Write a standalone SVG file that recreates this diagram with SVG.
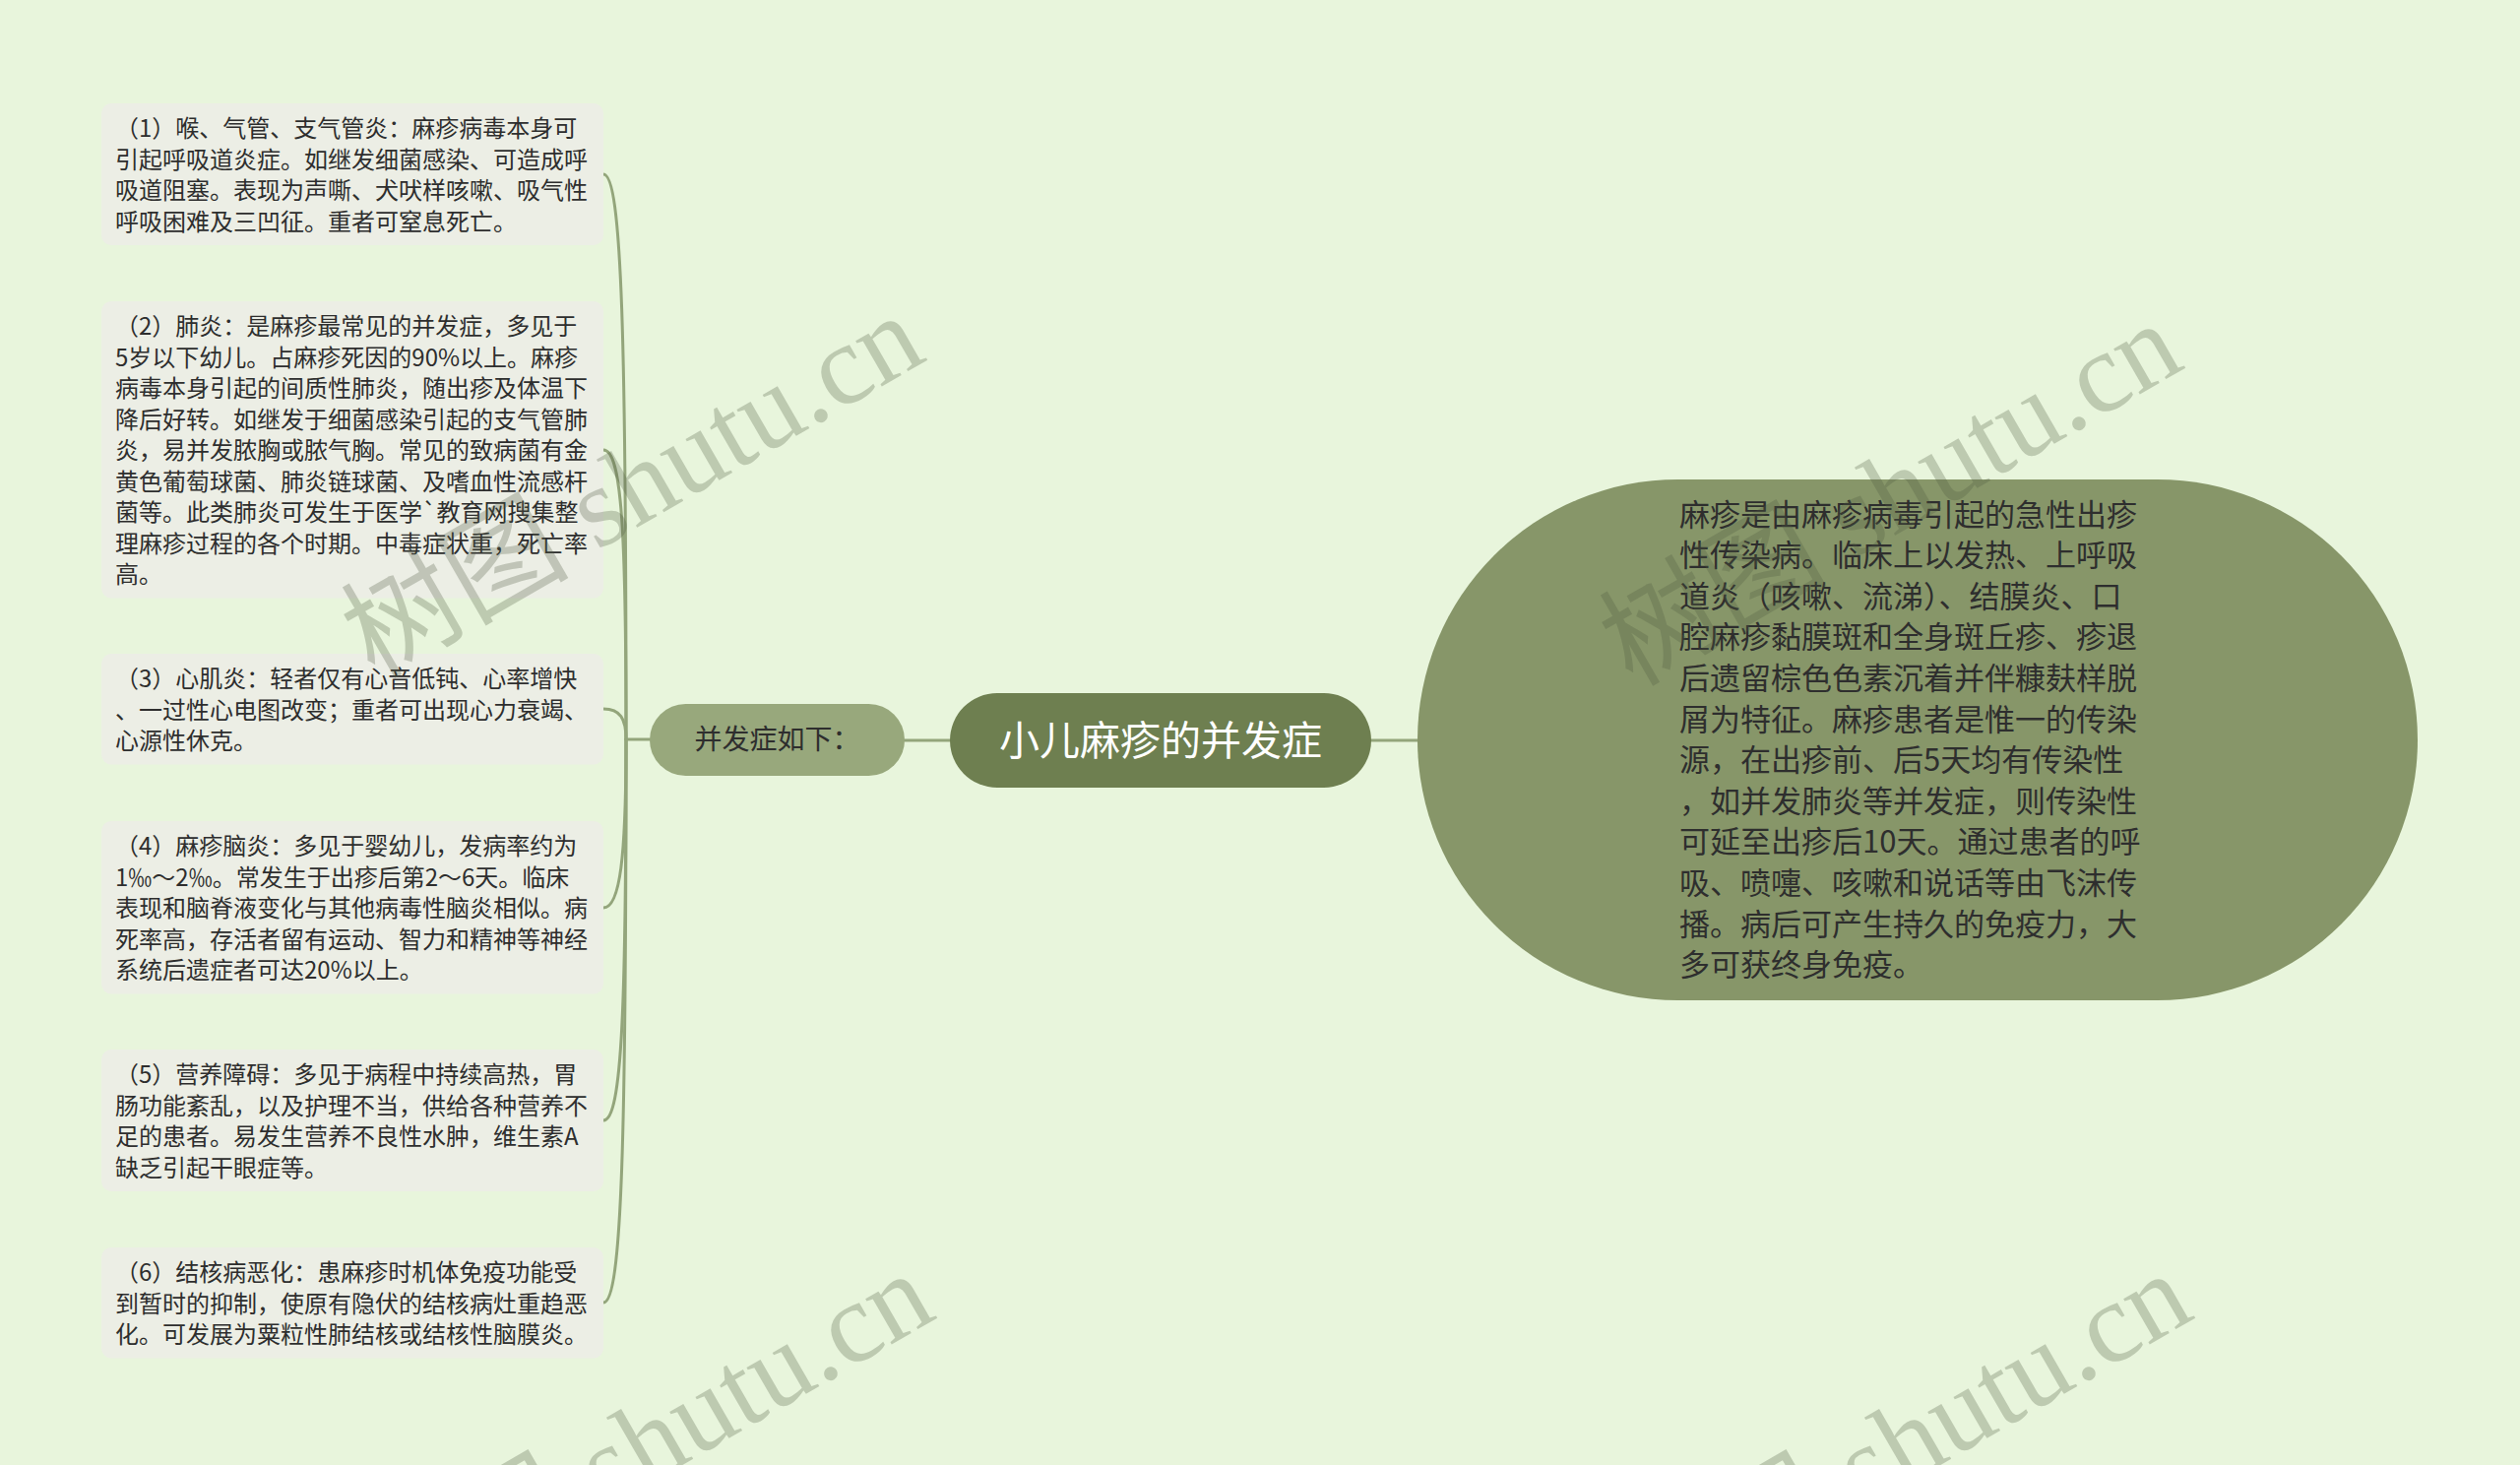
<svg xmlns="http://www.w3.org/2000/svg" width="2560" height="1488" viewBox="0 0 2560 1488">
<style>
.bg{fill:#e8f5dc}
.box{fill:#eceee5}
.bt{font-family:"Noto Sans CJK SC","Noto Sans",sans-serif;font-size:24px;fill:#2e2e2e}
.conn{fill:none;stroke:#93a57b;stroke-width:3;stroke-linecap:round}
.wm{font-family:"Liberation Serif","Noto Sans CJK SC",serif;font-size:116px;fill:#4f5b42;fill-opacity:0.28}
</style>
<rect class="bg" x="0" y="0" width="2560" height="1488"/>

<g id="connectors">
<line class="conn" x1="919" y1="752" x2="965" y2="752"/>
<line class="conn" x1="1393" y1="752" x2="1440" y2="752"/>
<line class="conn" x1="636" y1="751" x2="660" y2="751"/>
<path class="conn" d="M613 177 C632 177 636 350 636 751"/>
<path class="conn" d="M613 457 C632 457 636 545 636 751"/>
<path class="conn" d="M613 720 C630 720 636 730 636 751"/>
<path class="conn" d="M613 922 C630 922 636 870 636 751"/>
<path class="conn" d="M613 1138 C632 1138 636 1020 636 751"/>
<path class="conn" d="M613 1323 C632 1323 636 1150 636 751"/>
</g>

<g id="n1">
<rect class="box" x="103" y="105" width="510" height="144" rx="10"/>
<text class="bt" x="117" y="139"><tspan x="117">（1）喉、气管、支气管炎：麻疹病毒本身可</tspan><tspan x="117" dy="31.5">引起呼吸道炎症。如继发细菌感染、可造成呼</tspan><tspan x="117" dy="31.5">吸道阻塞。表现为声嘶、犬吠样咳嗽、吸气性</tspan><tspan x="117" dy="31.5">呼吸困难及三凹征。重者可窒息死亡。</tspan></text>
</g>

<g id="n2">
<rect class="box" x="103" y="306" width="510" height="301.5" rx="10"/>
<text class="bt" x="117" y="340"><tspan x="117">（2）肺炎：是麻疹最常见的并发症，多见于</tspan><tspan x="117" dy="31.5">5岁以下幼儿。占麻疹死因的90%以上。麻疹</tspan><tspan x="117" dy="31.5">病毒本身引起的间质性肺炎，随出疹及体温下</tspan><tspan x="117" dy="31.5">降后好转。如继发于细菌感染引起的支气管肺</tspan><tspan x="117" dy="31.5">炎，易并发脓胸或脓气胸。常见的致病菌有金</tspan><tspan x="117" dy="31.5">黄色葡萄球菌、肺炎链球菌、及嗜血性流感杆</tspan><tspan x="117" dy="31.5">菌等。此类肺炎可发生于医学`教育网搜集整</tspan><tspan x="117" dy="31.5">理麻疹过程的各个时期。中毒症状重，死亡率</tspan><tspan x="117" dy="31.5">高。</tspan></text>
</g>

<g id="n3">
<rect class="box" x="103" y="664" width="510" height="112.5" rx="10"/>
<text class="bt" x="117" y="698"><tspan x="117">（3）心肌炎：轻者仅有心音低钝、心率增快</tspan><tspan x="117" dy="31.5">、一过性心电图改变；重者可出现心力衰竭、</tspan><tspan x="117" dy="31.5">心源性休克。</tspan></text>
</g>

<g id="n4">
<rect class="box" x="103" y="834" width="510" height="175.5" rx="10"/>
<text class="bt" x="117" y="868"><tspan x="117">（4）麻疹脑炎：多见于婴幼儿，发病率约为</tspan><tspan x="117" dy="31.5">1‰～2‰。常发生于出疹后第2～6天。临床</tspan><tspan x="117" dy="31.5">表现和脑脊液变化与其他病毒性脑炎相似。病</tspan><tspan x="117" dy="31.5">死率高，存活者留有运动、智力和精神等神经</tspan><tspan x="117" dy="31.5">系统后遗症者可达20%以上。</tspan></text>
</g>

<g id="n5">
<rect class="box" x="103" y="1066" width="510" height="144" rx="10"/>
<text class="bt" x="117" y="1100"><tspan x="117">（5）营养障碍：多见于病程中持续高热，胃</tspan><tspan x="117" dy="31.5">肠功能紊乱，以及护理不当，供给各种营养不</tspan><tspan x="117" dy="31.5">足的患者。易发生营养不良性水肿，维生素A</tspan><tspan x="117" dy="31.5">缺乏引起干眼症等。</tspan></text>
</g>

<g id="n6">
<rect class="box" x="103" y="1267" width="510" height="112.5" rx="10"/>
<text class="bt" x="117" y="1301"><tspan x="117">（6）结核病恶化：患麻疹时机体免疫功能受</tspan><tspan x="117" dy="31.5">到暂时的抑制，使原有隐伏的结核病灶重趋恶</tspan><tspan x="117" dy="31.5">化。可发展为粟粒性肺结核或结核性脑膜炎。</tspan></text>
</g>

<g id="sub">
<rect x="660" y="715" width="259" height="73" rx="36.5" fill="#98a87c"/>
<text x="789.5" y="761" text-anchor="middle" font-family="Noto Sans CJK SC, sans-serif" font-size="28" fill="#2e2e2e">并发症如下：</text>
</g>

<g id="root">
<rect x="965" y="704" width="428" height="96" rx="48" fill="#6e7f50"/>
<text x="1179" y="767" text-anchor="middle" font-family="Noto Sans CJK SC, sans-serif" font-size="41" fill="#ffffff">小儿麻疹的并发症</text>
</g>

<g id="desc">
<rect x="1440" y="487" width="1016" height="529" rx="264.5" fill="#879669"/>
<text font-family="Noto Sans CJK SC, sans-serif" font-size="31" fill="#2e2e2e" x="1706" y="533.5"><tspan x="1706">麻疹是由麻疹病毒引起的急性出疹</tspan><tspan x="1706" dy="41.6">性传染病。临床上以发热、上呼吸</tspan><tspan x="1706" dy="41.6">道炎（咳嗽、流涕）、结膜炎、口</tspan><tspan x="1706" dy="41.6">腔麻疹黏膜斑和全身斑丘疹、疹退</tspan><tspan x="1706" dy="41.6">后遗留棕色色素沉着并伴糠麸样脱</tspan><tspan x="1706" dy="41.6">屑为特征。麻疹患者是惟一的传染</tspan><tspan x="1706" dy="41.6">源，在出疹前、后5天均有传染性</tspan><tspan x="1706" dy="41.6">，如并发肺炎等并发症，则传染性</tspan><tspan x="1706" dy="41.6">可延至出疹后10天。通过患者的呼</tspan><tspan x="1706" dy="41.6">吸、喷嚏、咳嗽和说话等由飞沫传</tspan><tspan x="1706" dy="41.6">播。病后可产生持久的免疫力，大</tspan><tspan x="1706" dy="41.6">多可获终身免疫。</tspan></text>
</g>

<g id="watermark">
<text class="wm" x="645" y="532" text-anchor="middle" transform="rotate(-30 645 498)">树图 shutu.cn</text>
<text class="wm" x="1923" y="540" text-anchor="middle" transform="rotate(-30 1923 506)">树图 shutu.cn</text>
<text class="wm" x="655" y="1505" text-anchor="middle" transform="rotate(-30 655 1471)">树图 shutu.cn</text>
<text class="wm" x="1933" y="1505" text-anchor="middle" transform="rotate(-30 1933 1471)">树图 shutu.cn</text>
</g>
</svg>
